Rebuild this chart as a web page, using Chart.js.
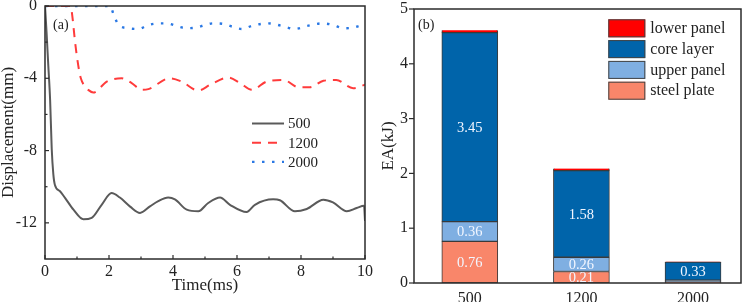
<!DOCTYPE html>
<html><head><meta charset="utf-8">
<script src="https://cdn.jsdelivr.net/npm/chart.js@4.4.1/dist/chart.umd.min.js"></script>
<style>
html,body{margin:0;padding:0;background:#fff;}
#wrap{position:relative;width:750px;height:302px;overflow:hidden;background:#fff;}
canvas{position:absolute;top:0;}
#ca{left:0;} #cb{left:375px;}
</style></head><body>
<div id="wrap"><canvas id="ca" width="375" height="302"></canvas><canvas id="cb" width="375" height="302"></canvas></div>
<script>
const FONT = "'Liberation Serif','Times New Roman',serif";

// ---------- Panel (a): displacement vs time ----------
const seriesNamesA = ['500', '1200', '2000'];
const t500 = [0, 0.05, 0.1, 0.16, 0.21, 0.26, 0.31, 0.47, 0.62, 0.89, 1.2, 1.46, 1.77, 2.08, 2.34, 2.66, 2.97, 3.28, 3.54, 3.85, 4.06, 4.43, 4.79, 5.1, 5.47, 5.78, 6.3, 6.56, 7.13, 7.34, 7.81, 8.18, 8.7, 9.0, 9.43, 9.74, 9.97, 10];
const d500 = [0, -1.5, -3.2, -5.2, -7.9, -9.3, -9.9, -10.25, -10.6, -11.27, -11.8, -11.72, -11.0, -10.35, -10.6, -11.1, -11.45, -11.09, -10.8, -10.6, -10.7, -11.27, -11.36, -10.9, -10.6, -11.0, -11.4, -11.0, -10.7, -10.75, -11.36, -11.23, -10.72, -10.87, -11.36, -11.18, -11.05, -11.9];
const t1200 = [0, 0.8, 0.85, 0.94, 1.04, 1.12, 1.25, 1.35, 1.51, 1.93, 2.4, 2.71, 3.02, 3.23, 3.9, 4.27, 4.79, 5.16, 5.73, 6.1, 6.46, 6.93, 7.45, 7.92, 8.28, 8.7, 9.1, 9.63, 10];
const d1200 = [0, 0, -0.5, -2.0, -3.3, -4.0, -4.45, -4.64, -4.79, -4.18, -4.0, -4.27, -4.64, -4.6, -4.0, -4.18, -4.68, -4.36, -3.96, -4.27, -4.64, -4.18, -4.09, -4.49, -4.49, -4.14, -4.09, -4.55, -4.36];
const t2000 = [0, 2.03, 2.15, 2.3, 2.6, 2.92, 3.23, 3.6, 3.85, 4.1, 4.43, 4.74, 5.0, 5.25, 5.6, 5.85, 6.15, 6.5, 6.98, 7.4, 7.81, 8.2, 8.67, 9.0, 9.32, 9.6, 10];
const d2000 = [0, 0, -0.5, -1.05, -1.23, -1.27, -1.05, -0.96, -0.97, -1.1, -1.23, -1.19, -1.05, -0.96, -1.0, -1.14, -1.27, -1.08, -0.96, -1.1, -1.27, -1.1, -0.96, -1.05, -1.23, -1.2, -1.0];
const xTicksA = [0, 2, 4, 6, 8, 10];
const xMinorA = [1, 3, 5, 7, 9];
const yTicksA = [-12, -8, -4, 0];
const yMinorA = [-10, -6, -2];

// ---------- Panel (b): energy absorption ----------
const categoriesB = ['500', '1200', '2000'];
const layersB = ['steel plate', 'upper panel', 'core layer', 'lower panel'];
const steelPlate = [0.76, 0.21, 0.02];
const upperPanel = [0.36, 0.26, 0.03];
const coreLayer = [3.45, 1.58, 0.33];
const lowerPanel = [0.04, 0.04, 0.01];
const yTicksB = [0, 1, 2, 3, 4, 5];

Chart.defaults.font.family = FONT;
Chart.defaults.color = '#222';

const pts = (xs, ys) => xs.map((x, i) => ({x: x, y: ys[i]}));

function frameTicks(cfg) {
  return {
    id: 'frameTicks',
    afterDraw(chart) {
      const {ctx, chartArea: a, scales} = chart;
      ctx.save();
      ctx.strokeStyle = '#2b2b2b';
      ctx.lineWidth = 1.5;
      ctx.strokeRect(a.left, a.top, a.right - a.left, a.bottom - a.top);
      ctx.lineWidth = 1.2;
      (cfg.x || []).forEach(([vals, len]) => vals.forEach(v => {
        const px = scales.x.getPixelForValue(v);
        ctx.beginPath(); ctx.moveTo(px, a.bottom); ctx.lineTo(px, a.bottom - len); ctx.stroke();
      }));
      (cfg.y || []).forEach(([vals, len]) => vals.forEach(v => {
        const py = scales.y.getPixelForValue(v);
        ctx.beginPath(); ctx.moveTo(a.left, py); ctx.lineTo(a.left + len, py); ctx.stroke();
      }));
      ctx.fillStyle = '#222';
      ctx.font = cfg.tagFont;
      ctx.textBaseline = 'middle';
      ctx.textAlign = 'left';
      ctx.fillText(cfg.tag, a.left + cfg.tagDx, a.top + cfg.tagDy);
      ctx.restore();
    }
  };
}

const legendA = {
  id: 'legendA',
  afterDraw(chart) {
    const {ctx, chartArea: a} = chart;
    ctx.save();
    ctx.font = '15px ' + FONT;
    ctx.textBaseline = 'middle';
    ctx.fillStyle = '#222';
    chart.data.datasets.forEach((ds, i) => {
      const y = a.top + 117.5 + i * 19.2;
      const x0 = a.left + 207;
      ctx.strokeStyle = ds.borderColor;
      ctx.lineWidth = ds.borderWidth;
      ctx.lineCap = 'butt';
      ctx.setLineDash(ds.borderDash || []);
      ctx.beginPath(); ctx.moveTo(x0, y); ctx.lineTo(x0 + 32, y); ctx.stroke();
      ctx.setLineDash([]);
      ctx.fillText(ds.label, x0 + 36, y + 1);
    });
    ctx.restore();
  }
};

new Chart(document.getElementById('ca'), {
  type: 'line',
  data: {
    datasets: [
      {label: seriesNamesA[0], data: pts(t500, d500), borderColor: '#5a5a5a', borderWidth: 2, pointRadius: 0, fill: false, cubicInterpolationMode: 'monotone'},
      {label: seriesNamesA[1], data: pts(t1200, d1200), borderColor: '#ff3b3b', borderWidth: 2, borderDash: [9, 7], pointRadius: 0, fill: false, cubicInterpolationMode: 'monotone'},
      {label: seriesNamesA[2], data: pts(t2000, d2000), borderColor: '#2a78e4', borderWidth: 2.4, borderDash: [2.5, 7.5], pointRadius: 0, fill: false, cubicInterpolationMode: 'monotone'}
    ]
  },
  options: {
    responsive: false, animation: false, devicePixelRatio: 1,
    layout: {padding: {top: 6, right: 10, left: 0, bottom: 0}},
    plugins: {legend: {display: false}, tooltip: {enabled: false}},
    scales: {
      x: {
        type: 'linear', min: 0, max: 10, offset: false,
        afterBuildTicks: s => { s.ticks = xTicksA.map(v => ({value: v})); },
        afterFit: s => { s.height = 43; s.paddingLeft = 0; s.paddingRight = 0; },
        ticks: {font: {size: 16}, color: '#222', padding: 3, maxRotation: 0, callback: v => String(v)},
        grid: {display: false, drawTicks: false, tickLength: 0},
        border: {display: false},
        title: {display: true, text: 'Time(ms)', font: {size: 17, lineHeight: 1}, color: '#222', padding: {top: 0, bottom: 8}}
      },
      y: {
        type: 'linear', min: -14, max: 0,
        afterBuildTicks: s => { s.ticks = yTicksA.map(v => ({value: v})); },
        afterFit: s => { s.width = 45; s.paddingTop = 0; s.paddingBottom = 0; },
        ticks: {font: {size: 16}, color: '#222', padding: 8, callback: v => String(v)},
        grid: {display: false, drawTicks: false, tickLength: 0},
        border: {display: false},
        title: {display: true, text: 'Displacement(mm)', font: {size: 17, lineHeight: 1}, color: '#222', padding: {top: 0, bottom: 0}}
      }
    }
  },
  plugins: [frameTicks({x: [[xTicksA, 4], [xMinorA, 2.5]], y: [[yTicksA, 4], [yMinorA, 2.5]], tag: '(a)', tagFont: '14px ' + FONT, tagDx: 8, tagDy: 19}), legendA]
});

const barLabels = {
  id: 'barLabels',
  afterDatasetsDraw(chart) {
    const ctx = chart.ctx;
    ctx.save();
    ctx.font = '14.5px ' + FONT;
    ctx.fillStyle = '#f2f6ff';
    ctx.textAlign = 'center';
    ctx.textBaseline = 'middle';
    chart.data.datasets.forEach((ds, di) => {
      const meta = chart.getDatasetMeta(di);
      meta.data.forEach((el, i) => {
        const v = ds.data[i].y;
        if (v >= 0.1) ctx.fillText(v.toFixed(2), el.x, (el.y + el.base) / 2 + 1);
      });
    });
    ctx.restore();
  }
};

const legendB = {
  id: 'legendB',
  afterDraw(chart) {
    const {ctx, chartArea: a} = chart;
    ctx.save();
    ctx.font = '16px ' + FONT;
    ctx.textBaseline = 'middle';
    ctx.textAlign = 'left';
    const dss = chart.data.datasets.slice().reverse();
    dss.forEach((ds, i) => {
      const y = a.top + 10.3 + i * 20.8;
      const x = a.left + 194.3;
      ctx.fillStyle = ds.backgroundColor;
      ctx.fillRect(x, y, 37, 18);
      ctx.strokeStyle = '#444';
      ctx.lineWidth = 1;
      ctx.strokeRect(x + 0.5, y + 0.5, 36, 17);
      ctx.fillStyle = '#222';
      ctx.fillText(ds.label, x + 42, y + 9.5);
    });
    ctx.restore();
  }
};

const barDs = (label, vals, color, bw) => ({
  label: label,
  data: vals.map((v, i) => ({x: i, y: v})),
  backgroundColor: color,
  borderColor: '#3a3a3a',
  borderWidth: bw,
  borderSkipped: false,
  barThickness: 56
});

new Chart(document.getElementById('cb'), {
  type: 'bar',
  data: {
    datasets: [
      barDs(layersB[0], steelPlate, '#f9866a', 1),
      barDs(layersB[1], upperPanel, '#7fafe2', 1),
      barDs(layersB[2], coreLayer, '#0064aa', 1),
      barDs(layersB[3], lowerPanel, '#ff0000', {top: 0, left: 1, right: 1, bottom: 1})
    ]
  },
  options: {
    responsive: false, animation: false, devicePixelRatio: 1,
    layout: {padding: {top: 9, right: 9, left: 0, bottom: 0}},
    plugins: {legend: {display: false}, tooltip: {enabled: false}},
    scales: {
      x: {
        type: 'linear', min: -0.5, max: 2.43, stacked: true, offset: false,
        afterBuildTicks: s => { s.ticks = categoriesB.map((c, i) => ({value: i})); },
        afterFit: s => { s.height = 19; s.paddingLeft = 0; s.paddingRight = 0; },
        ticks: {font: {size: 16}, color: '#222', padding: 6, maxRotation: 0, autoSkip: false, callback: v => categoriesB[v]},
        grid: {display: false, drawTicks: false, tickLength: 0, offset: false},
        border: {display: false}
      },
      y: {
        type: 'linear', min: 0, max: 5, stacked: true,
        afterBuildTicks: s => { s.ticks = yTicksB.map(v => ({value: v})); },
        afterFit: s => { s.width = 39; s.paddingTop = 0; s.paddingBottom = 0; },
        ticks: {font: {size: 16}, color: '#222', padding: 6, callback: v => String(v)},
        grid: {display: false, drawTicks: false, tickLength: 0},
        border: {display: false},
        title: {display: true, text: 'EA(kJ)', font: {size: 17, lineHeight: 1}, color: '#222', padding: {top: 5, bottom: 0}}
      }
    }
  },
  plugins: [frameTicks({y: [[yTicksB, -5]], tag: '(b)', tagFont: '14px ' + FONT, tagDx: 4, tagDy: 16}), barLabels, legendB]
});
</script>
</body></html>
